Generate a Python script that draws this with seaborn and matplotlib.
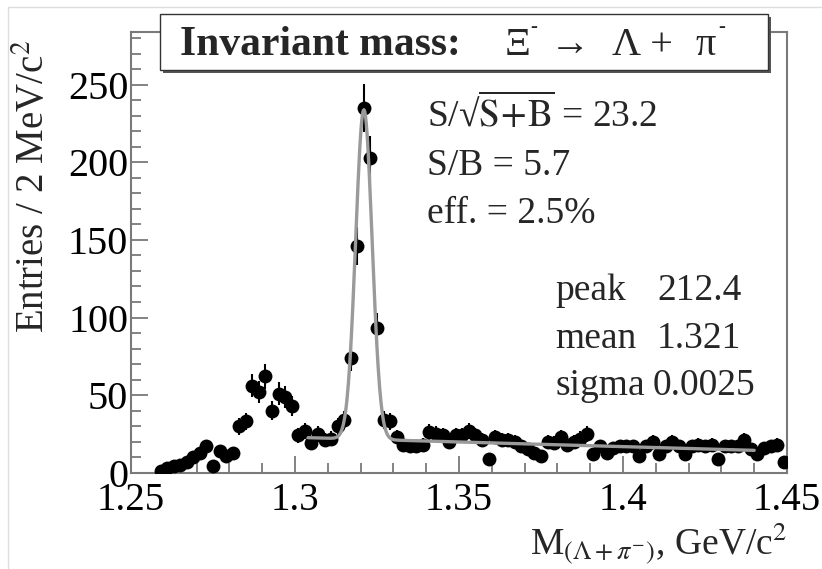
import numpy as np
import pandas as pd
import matplotlib
matplotlib.use("Agg")
import matplotlib.pyplot as plt
from matplotlib.patches import Rectangle
from matplotlib.ticker import MultipleLocator
import seaborn as sns

# ---- data ----
bin_first = 1.259      # GeV/c^2, centre of first bin
bin_width = 0.002      # GeV/c^2
entries = [1, 3, 4, 5, 7, 10, 13, 17, 4, 14,
           11, 13, 30, 33, 56, 52, 62, 40, 51, 49,
           43, 24, 27, 19, 25, 21, 22, 30, 34, 74,
           146, 235, 203, 93, 34, 33, 23, 18, 17, 17,
           18, 26, 25, 24, 20, 24, 24, 27, 24, 21,
           9, 23, 21, 21, 20, 17, 15, 13, 11, 20,
           19, 23, 18, 20, 22, 25, 12, 17, 13, 16,
           17, 17, 17, 11, 17, 20, 12, 17, 20, 17,
           12, 17, 18, 17, 18, 9, 17, 17, 17, 21,
           15, 12, 16, 17, 18, 7]

# fit parameters (gaussian + linear background)
fit_peak = 212.4
fit_mean = 1.321
fit_sigma = 0.0025
bkg_at_1330 = 21.0
bkg_slope = -60.0
fit_range = (1.304, 1.440)

x_ticks = [1.25, 1.3, 1.35, 1.4, 1.45]
x_tick_labels = ["1.25", "1.3", "1.35", "1.4", "1.45"]
y_ticks = [0, 50, 100, 150, 200, 250]

title_bold = "Invariant mass:"
title_parts = ["Ξ", "\u2192", "Λ +", "π"]
title_part_x = [505, 550, 612, 695]
title_sup_x = [530, 718]
stats_lines = [r"S/√$\overline{\mathrm{S\!+\!B}}$ = 23.2", "S/B = 5.7", "eff. = 2.5%"]
fit_labels = ["peak", "mean", "sigma"]
fit_values = ["212.4", "1.321", "0.0025"]

# ---- build frames ----
mass = np.round(bin_first + bin_width * np.arange(len(entries)), 4)
df = pd.DataFrame({"mass": mass, "entries": entries})
df["err"] = np.sqrt(df["entries"])

xf = np.linspace(fit_range[0], fit_range[1], 600)
yf = fit_peak * np.exp(-0.5 * ((xf - fit_mean) / fit_sigma) ** 2) + bkg_at_1330 + bkg_slope * (xf - 1.330)
fit_df = pd.DataFrame({"mass": xf, "fit": yf})

# ---- style ----
sns.set_theme(style="ticks")
plt.rcParams["font.family"] = ["Liberation Serif", "DejaVu Serif"]
plt.rcParams["mathtext.fontset"] = "stix"

W, H = 822, 569
fig = plt.figure(figsize=(W / 100, H / 100), dpi=100)
fig.patch.set_facecolor("white")

ax_l, ax_r, ax_b, ax_t = 131, 787, 472.7, 32
ax = fig.add_axes([ax_l / W, 1 - ax_b / H, (ax_r - ax_l) / W, (ax_b - ax_t) / H])

ax.errorbar(df["mass"], df["entries"], yerr=df["err"], fmt="none",
            ecolor="black", elinewidth=1.5, capsize=0, zorder=2)
sns.scatterplot(data=df, x="mass", y="entries", ax=ax, color="black",
                s=100, edgecolor="black", linewidth=0, zorder=3, legend=False)
sns.lineplot(data=fit_df, x="mass", y="fit", ax=ax, color="#9a9a9a",
             linewidth=2.4, zorder=4, legend=False)

ax.set_xlim(1.25, 1.45)
ax.set_ylim(0, 284)
ax.set_xticks(x_ticks)
ax.set_xticklabels(x_tick_labels)
ax.set_yticks(y_ticks)
ax.xaxis.set_minor_locator(MultipleLocator(0.01))
ax.yaxis.set_minor_locator(MultipleLocator(10))
ax.set_xlabel("")
ax.set_ylabel("")

for s in ax.spines.values():
    s.set_color("#7a7a7a")
    s.set_linewidth(1.5)
    s.set_visible(True)

ax.tick_params(which="both", direction="in", color="#7a7a7a", width=1.3,
               top=False, right=False)
ax.tick_params(which="major", length=12, labelcolor="black")
ax.tick_params(which="minor", length=7)
ax.tick_params(axis="y", which="major", pad=2, labelsize=29)
ax.tick_params(axis="x", which="major", pad=7, labelsize=28)

# axis titles
fig.text(34 / W, 1 - 40 / H, r"Entries / 2 MeV/c$^{2}$", rotation=90,
         ha="center", va="top", fontsize=28)
fig.text(787 / W, 1 - 554 / H, r"M$_{(\Lambda+\pi^{-})}$, GeV/c$^{2}$",
         ha="right", va="baseline", fontsize=27)

# statistics texts
for i, line in enumerate(stats_lines):
    fig.text(427 / W, 1 - (127 + 48 * i) / H, line, ha="left", va="baseline", fontsize=27)
for i, (lab, val) in enumerate(zip(fit_labels, fit_values)):
    fig.text(555 / W, 1 - (300 + 47.5 * i) / H, lab, ha="left", va="baseline", fontsize=27)
    fig.text((657 if i < 2 else 653) / W, 1 - (300 + 47.5 * i) / H, val,
             ha="left", va="baseline", fontsize=27)

# title box with shadow
bx0, bx1, by0, by1 = 160, 768, 14, 70
fig.add_artist(Rectangle(((bx0 + 3) / W, 1 - (by1 + 3) / H), (bx1 - bx0) / W, (by1 - by0) / H,
                         transform=fig.transFigure, facecolor="#555555", edgecolor="none", zorder=10))
fig.add_artist(Rectangle((bx0 / W, 1 - by1 / H), (bx1 - bx0) / W, (by1 - by0) / H,
                         transform=fig.transFigure, facecolor="white", edgecolor="#333333",
                         linewidth=1.0, zorder=11))
ty = 1 - 55 / H
fig.text(180 / W, ty, title_bold, ha="left", va="baseline",
         fontsize=30, fontweight="bold", zorder=12)
for xpos, part in zip(title_part_x, title_parts):
    fig.text(xpos / W, ty, part, ha="left", va="baseline", fontsize=29, zorder=12)
for xpos in title_sup_x:
    fig.text(xpos / W, 1 - 32 / H, "-", ha="left", va="baseline", fontsize=15,
             fontweight="bold", zorder=12)

# faint canvas border
fig.add_artist(plt.Line2D([8 / W, 8 / W], [0, 1 - 7 / H], transform=fig.transFigure,
                          color="#dddddd", linewidth=1))
fig.add_artist(plt.Line2D([8 / W, 1], [1 - 7 / H, 1 - 7 / H], transform=fig.transFigure,
                          color="#dddddd", linewidth=1))

fig.savefig("out.png", dpi=100)
